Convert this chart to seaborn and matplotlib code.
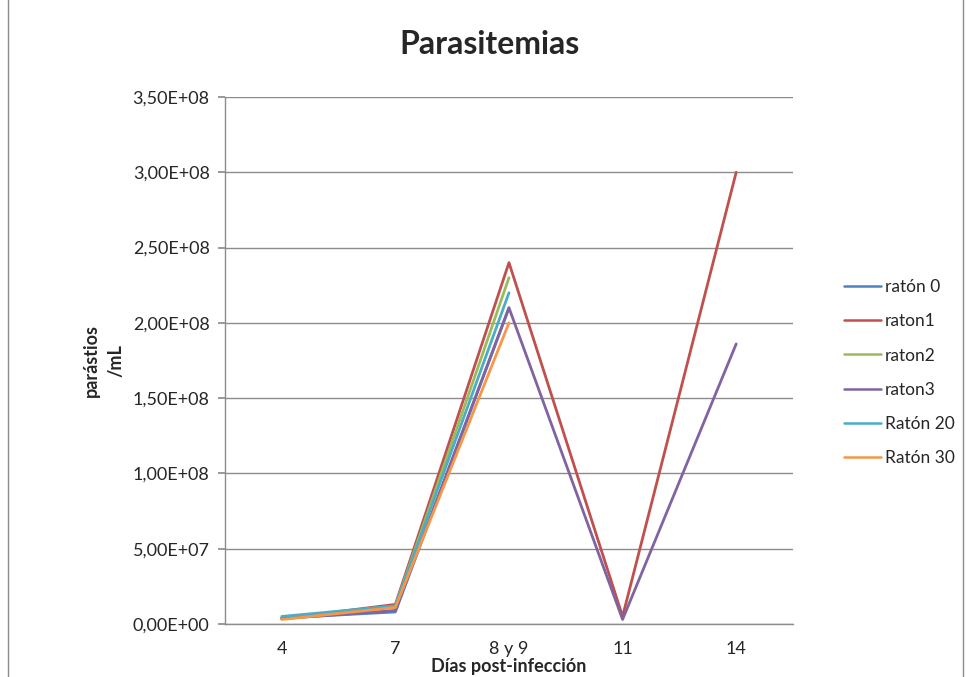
import numpy as np
import pandas as pd
import matplotlib
matplotlib.use("Agg")
import matplotlib.pyplot as plt
from matplotlib.ticker import FuncFormatter, MultipleLocator
from matplotlib.patches import Rectangle
import seaborn as sns

# Data: parasites per mL for each mouse, by day post-infection
dias = ["4", "7", "8 y 9", "11", "14"]
raton_0 = [4.0e6, 8.0e6, 2.10e8, np.nan, np.nan]
raton_1 = [3.5e6, 1.3e7, 2.40e8, 5.0e6, 3.00e8]
raton_2 = [4.0e6, 1.2e7, 2.30e8, np.nan, np.nan]
raton_3 = [3.5e6, 9.0e6, 2.10e8, 3.0e6, 1.86e8]
raton_20 = [5.0e6, 1.2e7, 2.20e8, np.nan, np.nan]
raton_30 = [3.0e6, 1.1e7, 2.00e8, np.nan, np.nan]

series_names = ["ratón 0", "raton1", "raton2", "raton3", "Ratón 20", "Ratón 30"]
series_values = [raton_0, raton_1, raton_2, raton_3, raton_20, raton_30]
colors = ["#4F81BD", "#C0504D", "#9BBB59", "#8064A2", "#4BACC6", "#F79646"]

rows = []
for name, vals in zip(series_names, series_values):
    for i, (d, v) in enumerate(zip(dias, vals)):
        rows.append({"pos": i, "dia": d, "valor": v, "serie": name})
df = pd.DataFrame(rows).dropna()

sns.set_theme(style="white")
plt.rcParams["font.family"] = ["Lato", "DejaVu Sans"]

fs = 13

fig = plt.figure(figsize=(9.68, 6.77), dpi=100)
ax = fig.add_axes([0.2324, 0.0783, 0.5868, 0.7784])

sns.lineplot(data=df, x="pos", y="valor", hue="serie", hue_order=series_names,
             palette=colors, linewidth=2.0, ax=ax, sort=False, estimator=None,
             legend=True)

ax.set_xlim(-0.5, len(dias) - 0.5)
ax.set_ylim(0, 3.5e8)
ax.set_xticks(range(len(dias)))
ax.set_xticklabels(dias)
ax.yaxis.set_major_locator(MultipleLocator(5e7))
ax.yaxis.set_major_formatter(FuncFormatter(lambda v, p: f"{v:.2E}".replace(".", ",")))

ax.grid(axis="y", color="#8C8C8C", linewidth=1.0)
ax.grid(axis="x", visible=False)
ax.set_axisbelow(True)
for side in ["top", "right"]:
    ax.spines[side].set_visible(False)
for side in ["left", "bottom"]:
    ax.spines[side].set_color("#8C8C8C")
    ax.spines[side].set_linewidth(1.0)

ax.tick_params(axis="y", which="major", direction="out", length=5, color="#8C8C8C",
               labelsize=fs, pad=6, left=True)
ax.tick_params(axis="x", which="major", length=0, labelsize=fs, pad=12)

ax.set_xlabel("Días post-infección", fontsize=fs, fontweight="bold", labelpad=1)
ax.set_ylabel("parástios\n/mL", fontsize=fs, fontweight="bold", labelpad=6,
              linespacing=1.5)

fig.text(0.506, 0.935, "Parasitemias", ha="center", va="center",
         fontsize=23, fontweight="bold")

handles, labels = ax.get_legend_handles_labels()
leg = ax.legend(handles, labels, loc="center left", bbox_to_anchor=(1.09, 0.477),
                frameon=False, fontsize=12.5, handlelength=2.1, handletextpad=0.25,
                labelspacing=1.05, borderaxespad=0, borderpad=0)
for line in leg.get_lines():
    line.set_linewidth(1.8)

# outer chart border
fig.patches.append(Rectangle((0.008, -0.01), 0.987, 1.05, transform=fig.transFigure,
                             fill=False, edgecolor="#8C8C8C", linewidth=1.0))

fig.savefig("out.png", dpi=100)
